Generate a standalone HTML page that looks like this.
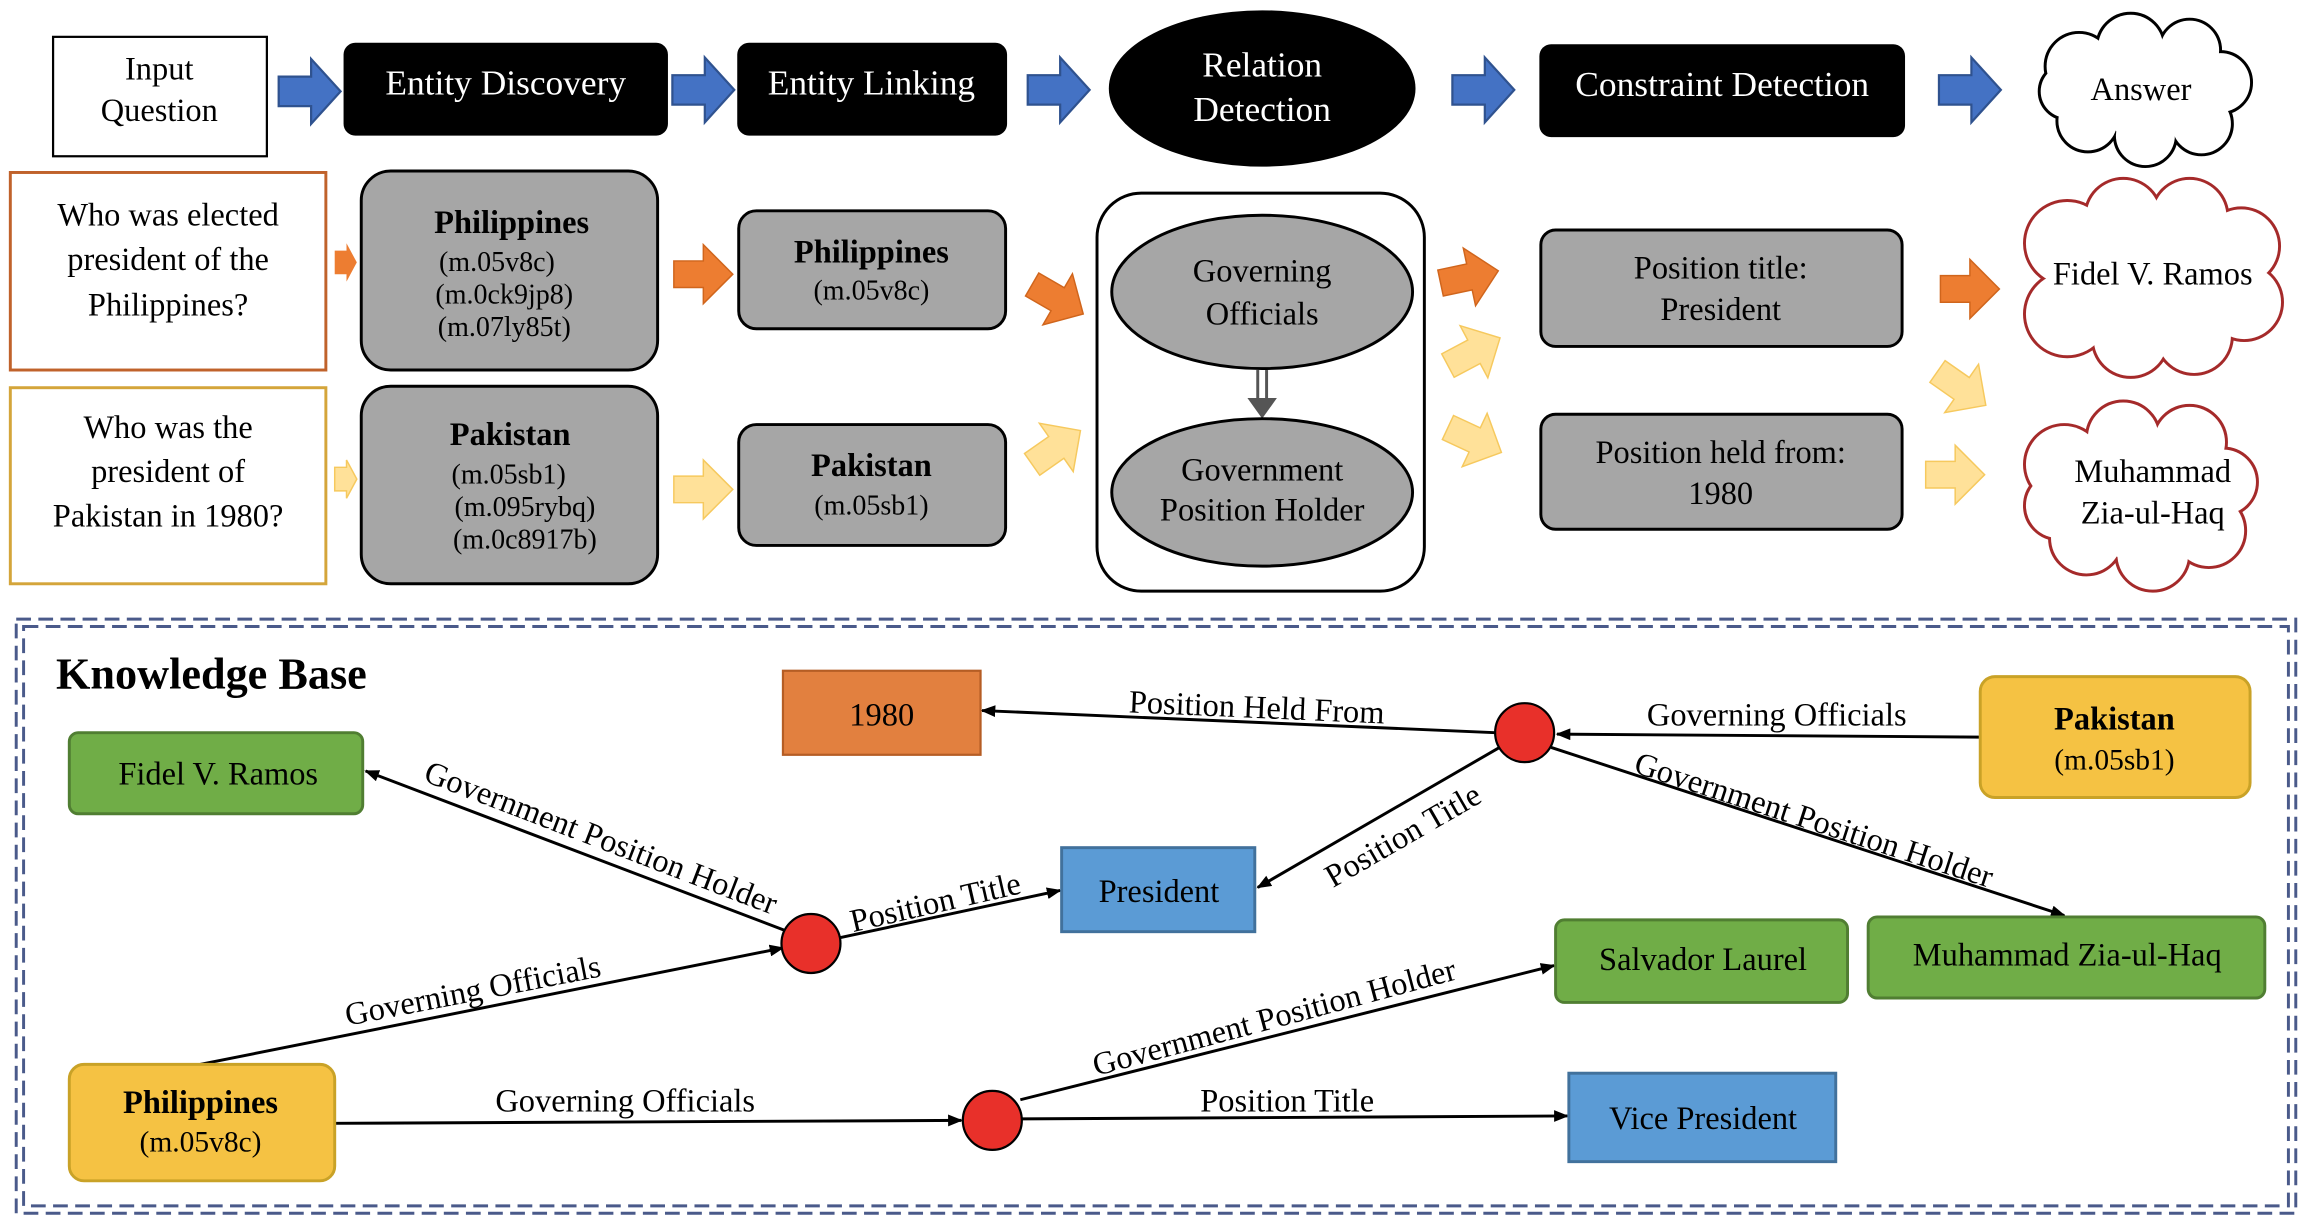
<!DOCTYPE html>
<html><head><meta charset="utf-8"><style>html,body{margin:0;padding:0;background:#fff}svg{display:block}svg text{font-family:"Liberation Serif","Times New Roman",serif}</style></head>
<body>
<svg width="2312" height="1228" viewBox="0 0 1568 833" preserveAspectRatio="none" xmlns="http://www.w3.org/2000/svg" font-family="Liberation Serif, serif">
<defs>
<polygon id="ba" points="0,-10 22,-10 22,-22 42,0 22,22 22,10 0,10"/>
<polygon id="sa" points="0,-9 20,-9 20,-20 40,0 20,20 20,9 0,9"/>
<marker id="ah" markerWidth="10" markerHeight="8" refX="9" refY="4" orient="auto" markerUnits="userSpaceOnUse"><polygon points="0,0 10,4 0,8" fill="#000"/></marker>
</defs>
<rect width="1568" height="833" fill="#fff"/>
<rect x="36" y="25" width="145" height="81" fill="#fff" stroke="#000" stroke-width="1.5"/>
<text x="108" y="54" font-size="22" text-anchor="middle">Input</text>
<text x="108" y="82" font-size="22" text-anchor="middle">Question</text>
<g fill="#4472C4" stroke="#2F528F" stroke-width="1.5">
<use href="#ba" x="189" y="62"/><use href="#ba" x="456" y="61"/><use href="#ba" x="697" y="61"/><use href="#ba" x="985" y="61"/><use href="#ba" x="1315" y="61"/>
</g>
<rect x="233" y="29" width="220" height="63" rx="8" fill="#000"/>
<text x="343" y="64" font-size="24" fill="#fff" text-anchor="middle">Entity Discovery</text>
<rect x="500" y="29" width="183" height="63" rx="8" fill="#000"/>
<text x="591" y="64" font-size="24" fill="#fff" text-anchor="middle">Entity Linking</text>
<ellipse cx="856" cy="60" rx="104" ry="53" fill="#000"/>
<text x="856" y="52" font-size="24" fill="#fff" text-anchor="middle">Relation</text>
<text x="856" y="82" font-size="24" fill="#fff" text-anchor="middle">Detection</text>
<rect x="1044" y="30" width="248" height="63" rx="8" fill="#000"/>
<text x="1168" y="65" font-size="24" fill="#fff" text-anchor="middle">Constraint Detection</text>
<g stroke="#000" stroke-width="4" fill="#fff">
<circle cx="1410" cy="45" r="22"/><circle cx="1445" cy="32" r="22"/><circle cx="1485" cy="34" r="20"/><circle cx="1506" cy="56" r="20"/><circle cx="1493" cy="84" r="20"/><circle cx="1455" cy="92" r="20"/><circle cx="1416" cy="82" r="20"/><circle cx="1402" cy="62" r="18"/>
</g>
<g fill="#fff">
<circle cx="1410" cy="45" r="22"/><circle cx="1445" cy="32" r="22"/><circle cx="1485" cy="34" r="20"/><circle cx="1506" cy="56" r="20"/><circle cx="1493" cy="84" r="20"/><circle cx="1455" cy="92" r="20"/><circle cx="1416" cy="82" r="20"/><circle cx="1402" cy="62" r="18"/><circle cx="1455" cy="60" r="35"/>
</g>
<text x="1452" y="68" font-size="22" text-anchor="middle">Answer</text>
<g stroke="#A52A2A" stroke-width="4" fill="#fff">
<circle cx="1402" cy="165" r="28"/><circle cx="1440" cy="147" r="25"/><circle cx="1485" cy="147" r="25"/><circle cx="1520" cy="167" r="25"/><circle cx="1522" cy="205" r="25"/><circle cx="1488" cy="228" r="25"/><circle cx="1445" cy="230" r="25"/><circle cx="1402" cy="213" r="28"/>
<circle cx="1400" cy="315" r="26"/><circle cx="1440" cy="297" r="24"/><circle cx="1485" cy="300" r="24"/><circle cx="1508" cy="327" r="22"/><circle cx="1498" cy="360" r="24"/><circle cx="1460" cy="376" r="24"/><circle cx="1415" cy="365" r="24"/><circle cx="1396" cy="343" r="22"/>
</g>
<g fill="#fff">
<circle cx="1402" cy="165" r="28"/><circle cx="1440" cy="147" r="25"/><circle cx="1485" cy="147" r="25"/><circle cx="1520" cy="167" r="25"/><circle cx="1522" cy="205" r="25"/><circle cx="1488" cy="228" r="25"/><circle cx="1445" cy="230" r="25"/><circle cx="1402" cy="213" r="28"/><circle cx="1460" cy="188" r="50"/>
<circle cx="1400" cy="315" r="26"/><circle cx="1440" cy="297" r="24"/><circle cx="1485" cy="300" r="24"/><circle cx="1508" cy="327" r="22"/><circle cx="1498" cy="360" r="24"/><circle cx="1460" cy="376" r="24"/><circle cx="1415" cy="365" r="24"/><circle cx="1396" cy="343" r="22"/><circle cx="1450" cy="335" r="45"/>
</g>
<text x="1460" y="193" font-size="22" text-anchor="middle">Fidel V. Ramos</text>
<text x="1460" y="327" font-size="22" text-anchor="middle">Muhammad</text>
<text x="1460" y="355" font-size="22" text-anchor="middle">Zia-ul-Haq</text>
<rect x="7" y="117" width="214" height="134" fill="#fff" stroke="#C0622B" stroke-width="2"/>
<text x="114" y="153" font-size="22" text-anchor="middle">Who was elected</text>
<text x="114" y="183" font-size="22" text-anchor="middle">president of the</text>
<text x="114" y="214" font-size="22" text-anchor="middle">Philippines?</text>
<rect x="7" y="263" width="214" height="133" fill="#fff" stroke="#D4A53A" stroke-width="2"/>
<text x="114" y="297" font-size="22" text-anchor="middle">Who was the</text>
<text x="114" y="327" font-size="22" text-anchor="middle">president of</text>
<text x="114" y="357" font-size="22" text-anchor="middle">Pakistan in 1980?</text>
<polygon points="227,170 235,170 235,165 242,178 235,191 235,186 227,186" fill="#ED7D31"/>
<polygon points="227,317 235,317 235,312 242,325 235,338 235,333 227,333" fill="#FFE199" stroke="#F6C95E"/>
<rect x="245" y="116" width="201" height="135" rx="20" fill="#A6A6A6" stroke="#000" stroke-width="2"/>
<text x="347" y="158" font-size="22" font-weight="bold" text-anchor="middle">Philippines</text>
<text x="337" y="184" font-size="19" text-anchor="middle">(m.05v8c)</text>
<text x="342" y="206" font-size="19" text-anchor="middle">(m.0ck9jp8)</text>
<text x="342" y="228" font-size="19" text-anchor="middle">(m.07ly85t)</text>
<rect x="245" y="262" width="201" height="134" rx="20" fill="#A6A6A6" stroke="#000" stroke-width="2"/>
<text x="346" y="302" font-size="22" font-weight="bold" text-anchor="middle">Pakistan</text>
<text x="345" y="328" font-size="19" text-anchor="middle">(m.05sb1)</text>
<text x="356" y="350" font-size="19" text-anchor="middle">(m.095rybq)</text>
<text x="356" y="372" font-size="19" text-anchor="middle">(m.0c8917b)</text>
<use href="#sa" x="457" y="186" fill="#ED7D31" stroke="#D0651C"/>
<use href="#sa" x="457" y="332" fill="#FFE199" stroke="#F6C95E"/>
<rect x="501" y="143" width="181" height="80" rx="12" fill="#A6A6A6" stroke="#000" stroke-width="2"/>
<text x="591" y="178" font-size="22" font-weight="bold" text-anchor="middle">Philippines</text>
<text x="591" y="203" font-size="19" text-anchor="middle">(m.05v8c)</text>
<rect x="501" y="288" width="181" height="82" rx="12" fill="#A6A6A6" stroke="#000" stroke-width="2"/>
<text x="591" y="323" font-size="22" font-weight="bold" text-anchor="middle">Pakistan</text>
<text x="591" y="349" font-size="19" text-anchor="middle">(m.05sb1)</text>
<use href="#sa" transform="translate(700,193) rotate(30)" fill="#ED7D31" stroke="#D0651C"/>
<use href="#sa" transform="translate(700,315) rotate(-35)" fill="#FFE199" stroke="#F6C95E"/>
<rect x="744" y="131" width="222" height="270" rx="30" fill="#fff" stroke="#000" stroke-width="2"/>
<ellipse cx="856" cy="198" rx="102" ry="52" fill="#A6A6A6" stroke="#000" stroke-width="2"/>
<text x="856" y="191" font-size="22" text-anchor="middle">Governing</text>
<text x="856" y="220" font-size="22" text-anchor="middle">Officials</text>
<line x1="853" y1="251" x2="853" y2="272" stroke="#555" stroke-width="2"/>
<line x1="859" y1="251" x2="859" y2="272" stroke="#555" stroke-width="2"/>
<polygon points="846,270 866,270 856,284" fill="#555"/>
<ellipse cx="856" cy="334" rx="102" ry="50" fill="#A6A6A6" stroke="#000" stroke-width="2"/>
<text x="856" y="326" font-size="22" text-anchor="middle">Government</text>
<text x="856" y="353" font-size="22" text-anchor="middle">Position Holder</text>
<use href="#sa" transform="translate(977,192) rotate(-12)" fill="#ED7D31" stroke="#D0651C"/>
<use href="#sa" transform="translate(982,248) rotate(-28)" fill="#FFE199" stroke="#F6C95E"/>
<use href="#sa" transform="translate(982,290) rotate(25)" fill="#FFE199" stroke="#F6C95E"/>
<rect x="1045" y="156" width="245" height="79" rx="10" fill="#A6A6A6" stroke="#000" stroke-width="2"/>
<text x="1167" y="189" font-size="22" text-anchor="middle">Position title:</text>
<text x="1167" y="217" font-size="22" text-anchor="middle">President</text>
<rect x="1045" y="281" width="245" height="78" rx="10" fill="#A6A6A6" stroke="#000" stroke-width="2"/>
<text x="1167" y="314" font-size="22" text-anchor="middle">Position held from:</text>
<text x="1167" y="342" font-size="22" text-anchor="middle">1980</text>
<use href="#sa" x="1316" y="196" fill="#ED7D31" stroke="#D0651C"/>
<use href="#sa" transform="translate(1314,252) rotate(35)" fill="#FFE199" stroke="#F6C95E"/>
<use href="#sa" x="1306" y="322" fill="#FFE199" stroke="#F6C95E"/>
<rect x="11" y="420" width="1546" height="403" fill="none" stroke="#4A5A8A" stroke-width="2" stroke-dasharray="10,5"/>
<rect x="16" y="425" width="1536" height="393" fill="none" stroke="#4A5A8A" stroke-width="2" stroke-dasharray="10,5"/>
<text x="38" y="467" font-size="30" font-weight="bold">Knowledge Base</text>
<g stroke="#000" stroke-width="2" marker-end="url(#ah)" fill="none">
<line x1="1343" y1="500" x2="1056" y2="498"/>
<line x1="1014" y1="497" x2="666" y2="482"/>
<line x1="1017" y1="507" x2="853" y2="602"/>
<line x1="1052" y1="507" x2="1400" y2="621"/>
<line x1="136" y1="722" x2="531" y2="643"/>
<line x1="532" y1="631" x2="248" y2="523"/>
<line x1="570" y1="636" x2="719" y2="604"/>
<line x1="227" y1="762" x2="652" y2="760"/>
<line x1="692" y1="746" x2="1054" y2="655"/>
<line x1="693" y1="759" x2="1063" y2="757"/>
</g>
<g font-size="22" text-anchor="middle">
<text x="1205" y="492">Governing Officials</text>
<text transform="translate(852,487) rotate(2.5)">Position Held From</text>
<text transform="translate(955,573) rotate(-30)">Position Title</text>
<text transform="translate(1228,563) rotate(18)">Government Position Holder</text>
<text transform="translate(322,679) rotate(-11)">Governing Officials</text>
<text transform="translate(405,575) rotate(21)">Government Position Holder</text>
<text transform="translate(636,619) rotate(-13)">Position Title</text>
<text x="424" y="754">Governing Officials</text>
<text transform="translate(866,697) rotate(-15)">Government Position Holder</text>
<text x="873" y="754">Position Title</text>
</g>
<rect x="531" y="455" width="134" height="57" fill="#E2803F" stroke="#B55D24" stroke-width="1.5"/>
<text x="598" y="492" font-size="22" text-anchor="middle">1980</text>
<rect x="47" y="497" width="199" height="55" rx="6" fill="#70AD47" stroke="#507E32" stroke-width="2"/>
<text x="148" y="532" font-size="22" text-anchor="middle">Fidel V. Ramos</text>
<rect x="1343" y="459" width="183" height="82" rx="10" fill="#F5C243" stroke="#C9A227" stroke-width="2"/>
<text x="1434" y="495" font-size="22" font-weight="bold" text-anchor="middle">Pakistan</text>
<text x="1434" y="522" font-size="20" text-anchor="middle">(m.05sb1)</text>
<rect x="720" y="575" width="131" height="57" fill="#5B9BD5" stroke="#41719C" stroke-width="2"/>
<text x="786" y="612" font-size="22" text-anchor="middle">President</text>
<rect x="1055" y="624" width="198" height="56" rx="6" fill="#70AD47" stroke="#507E32" stroke-width="2"/>
<text x="1155" y="658" font-size="22" text-anchor="middle">Salvador Laurel</text>
<rect x="1267" y="622" width="269" height="55" rx="6" fill="#70AD47" stroke="#507E32" stroke-width="2"/>
<text x="1402" y="655" font-size="22" text-anchor="middle">Muhammad Zia-ul-Haq</text>
<rect x="47" y="722" width="180" height="79" rx="10" fill="#F5C243" stroke="#C9A227" stroke-width="2"/>
<text x="136" y="755" font-size="22" font-weight="bold" text-anchor="middle">Philippines</text>
<text x="136" y="781" font-size="20" text-anchor="middle">(m.05v8c)</text>
<rect x="1064" y="728" width="181" height="60" fill="#5B9BD5" stroke="#41719C" stroke-width="2"/>
<text x="1155" y="766" font-size="22" text-anchor="middle">Vice President</text>
<g fill="#E8302A" stroke="#000" stroke-width="1.5">
<circle cx="1034" cy="497" r="20"/><circle cx="550" cy="640" r="20"/><circle cx="673" cy="760" r="20"/>
</g>
</svg>
</body></html>
